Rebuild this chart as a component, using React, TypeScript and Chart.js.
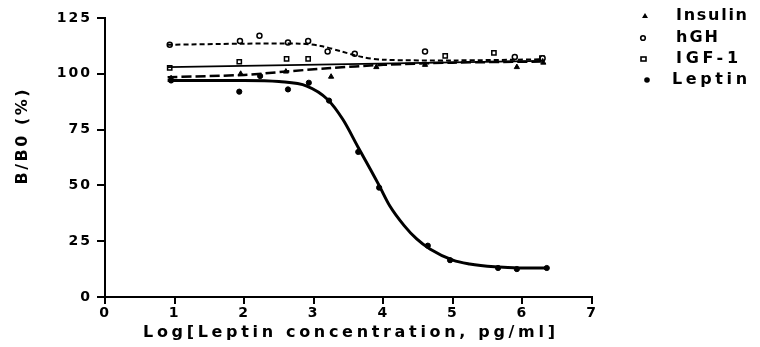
import React, { useEffect, useRef } from "react";
import { Chart, registerables } from "chart.js";

Chart.register(...registerables);

// Axis ranges / ticks
const xMin = 0;
const xMax = 7;
const yMin = 0;
const yMax = 125;
const yStep = 25;
const xStep = 1;

// Text
const xTitle = "Log[Leptin concentration, pg/ml]";
const yTitle = "B/B0 (%)";
const seriesNames = ["Insulin", "hGH", "IGF-1", "Leptin"];

// Measured points
const insulinX = [0.95, 1.95, 2.6, 3.25, 3.9, 4.6, 5.92, 6.3];
const insulinY = [98, 100, 101, 98.7, 103, 104, 103, 105];

const hghX = [0.93, 1.94, 2.22, 2.63, 2.92, 3.2, 3.59, 4.6, 5.89, 6.29];
const hghY = [113, 114.7, 117, 114, 114.7, 110, 109, 110, 107.5, 107];

const igfX = [0.93, 1.93, 2.61, 2.92, 4.89, 5.59, 6.28];
const igfY = [102.7, 105.4, 106.7, 106.7, 108, 109.4, 107];

const leptinX = [0.95, 1.93, 2.23, 2.63, 2.93, 3.22, 3.64, 3.94, 4.64, 4.96, 5.65, 5.92, 6.35];
const leptinY = [97, 92, 99, 93, 96, 88, 65, 49, 23, 16.5, 13, 12.5, 13];

// Fitted curves as drawn in the figure
const insulinFitX = [0.9, 2, 2.6, 3.2, 4, 5, 6.3];
const insulinFitY = [98.5, 99.5, 101, 102.5, 104, 105, 105.5];

const hghFitX = [0.9, 2, 2.8, 3.1, 3.4, 3.7, 4, 5, 6.3];
const hghFitY = [113, 113.5, 113.5, 112.5, 110, 107.5, 106.3, 106, 106.5];

const igfFitX = [0.9, 6.3];
const igfFitY = [103, 105.8];

const leptinFitX = [0.9, 2, 2.5, 2.9, 3.2, 3.42, 3.64, 3.81, 3.94, 4.09, 4.3, 4.48, 4.67, 5.0, 5.24, 5.6, 5.96, 6.35];
const leptinFitY = [97, 97, 96.5, 94.5, 88.5, 79.5, 67, 57.5, 50, 41, 32, 26, 21.5, 16.5, 14.8, 13.5, 13, 13];

const zip = (xs: number[], ys: number[]) => xs.map((x, i) => ({ x, y: ys[i] }));

const FONT = '"DejaVu Sans", sans-serif';

function drawSpaced(
  ctx: CanvasRenderingContext2D,
  text: string,
  x: number,
  y: number,
  targetW: number,
  font: string,
  align: "left" | "center"
) {
  ctx.font = font;
  (ctx as any).letterSpacing = "0px";
  const w = ctx.measureText(text).width;
  const sp = Math.max(0, (targetW - w) / Math.max(1, text.length - 1));
  (ctx as any).letterSpacing = sp.toFixed(2) + "px";
  ctx.textAlign = "left";
  ctx.textBaseline = "middle";
  const sx = align === "center" ? x - targetW / 2 : x;
  ctx.fillText(text, sx, y);
}

const textPlugin = {
  id: "texts",
  beforeDraw(chart: any) {
    (chart.ctx as any).letterSpacing = "2px";
  },
  afterDraw(chart: any) {
    const ctx: CanvasRenderingContext2D = chart.ctx;
    ctx.save();
    ctx.fillStyle = "#000";
    ctx.strokeStyle = "#000";
    // x title
    drawSpaced(ctx, xTitle, 349, 333, 412, `bold 16px ${FONT}`, "center");
    // y title
    ctx.save();
    ctx.translate(23, 137);
    ctx.rotate(-Math.PI / 2);
    drawSpaced(ctx, yTitle, 0, 0, 95, `bold 16px ${FONT}`, "center");
    ctx.restore();
    // legend
    const rows = [16, 38, 59, 80];
    const widths = [71, 42, 62, 75];
    rows.forEach((ry, i) => {
      drawSpaced(ctx, seriesNames[i], i === 3 ? 672 : 676, ry, widths[i], `bold 16px ${FONT}`, "left");
    });
    // legend symbols
    ctx.lineWidth = 1.6;
    ctx.beginPath();
    ctx.moveTo(645, 13);
    ctx.lineTo(648, 18);
    ctx.lineTo(642, 18);
    ctx.closePath();
    ctx.fill();
    ctx.beginPath();
    ctx.arc(643, 38, 2.3, 0, Math.PI * 2);
    ctx.stroke();
    ctx.strokeRect(641, 57, 5, 4);
    ctx.beginPath();
    ctx.arc(647, 80, 2.8, 0, Math.PI * 2);
    ctx.fill();
    ctx.restore();
    (ctx as any).letterSpacing = "0px";
  },
};

export default function App() {
  const ref = useRef<HTMLCanvasElement | null>(null);

  useEffect(() => {
    document.body.style.margin = "0";
    const canvas = ref.current!;
    const black = "#000";
    const tickFont = { family: FONT, weight: "bold" as const, size: 14 };
    const chart = new Chart(canvas, {
      type: "scatter",
      data: {
        datasets: [
          {
            label: "Insulin fit",
            type: "line",
            data: zip(insulinFitX, insulinFitY),
            borderColor: black,
            borderWidth: 2.5,
            borderDash: [10, 4],
            pointRadius: 0,
            tension: 0.3,
            fill: false,
          },
          {
            label: "hGH fit",
            type: "line",
            data: zip(hghFitX, hghFitY),
            borderColor: black,
            borderWidth: 2,
            borderDash: [5, 3],
            pointRadius: 0,
            tension: 0.3,
            fill: false,
          },
          {
            label: "IGF-1 fit",
            type: "line",
            data: zip(igfFitX, igfFitY),
            borderColor: black,
            borderWidth: 1.8,
            pointRadius: 0,
            fill: false,
          },
          {
            label: "Leptin fit",
            type: "line",
            data: zip(leptinFitX, leptinFitY),
            borderColor: black,
            borderWidth: 3,
            pointRadius: 0,
            cubicInterpolationMode: "monotone",
            fill: false,
          },
          {
            label: "Insulin",
            data: zip(insulinX, insulinY),
            pointStyle: "triangle",
            pointRadius: 3,
            backgroundColor: black,
            borderColor: black,
            borderWidth: 1,
          },
          {
            label: "hGH",
            data: zip(hghX, hghY),
            pointStyle: "circle",
            pointRadius: 2.5,
            backgroundColor: "#fff",
            borderColor: black,
            borderWidth: 1.5,
          },
          {
            label: "IGF-1",
            data: zip(igfX, igfY),
            pointStyle: "rect",
            pointRadius: 3,
            backgroundColor: "#fff",
            borderColor: black,
            borderWidth: 1.5,
          },
          {
            label: "Leptin",
            data: zip(leptinX, leptinY),
            pointStyle: "circle",
            pointRadius: 2.6,
            backgroundColor: black,
            borderColor: black,
            borderWidth: 1,
          },
        ] as any,
      },
      options: {
        animation: false,
        responsive: false,
        events: [],
        layout: { padding: { top: 18, right: 168, left: 0, bottom: 0 } },
        plugins: { legend: { display: false }, tooltip: { enabled: false } },
        scales: {
          x: {
            type: "linear",
            min: xMin,
            max: xMax,
            afterFit: (s: any) => {
              s.height = 50;
            },
            ticks: { stepSize: xStep, color: black, font: tickFont, padding: 1 },
            grid: {
              drawOnChartArea: false,
              drawTicks: true,
              tickLength: 7,
              tickColor: black,
              lineWidth: 2,
            },
            border: { display: true, color: black, width: 2 },
          },
          y: {
            type: "linear",
            min: yMin,
            max: yMax,
            afterFit: (s: any) => {
              s.width = 105;
            },
            ticks: { stepSize: yStep, color: black, font: tickFont, padding: 5 },
            grid: {
              drawOnChartArea: false,
              drawTicks: true,
              tickLength: 8,
              tickColor: black,
              lineWidth: 2,
            },
            border: { display: true, color: black, width: 2 },
          },
        },
      } as any,
      plugins: [textPlugin],
    });
    return () => chart.destroy();
  }, []);

  return (
    <div style={{ width: 760, height: 347, background: "#fff" }}>
      <canvas ref={ref} width={760} height={347} style={{ display: "block" }} />
    </div>
  );
}
